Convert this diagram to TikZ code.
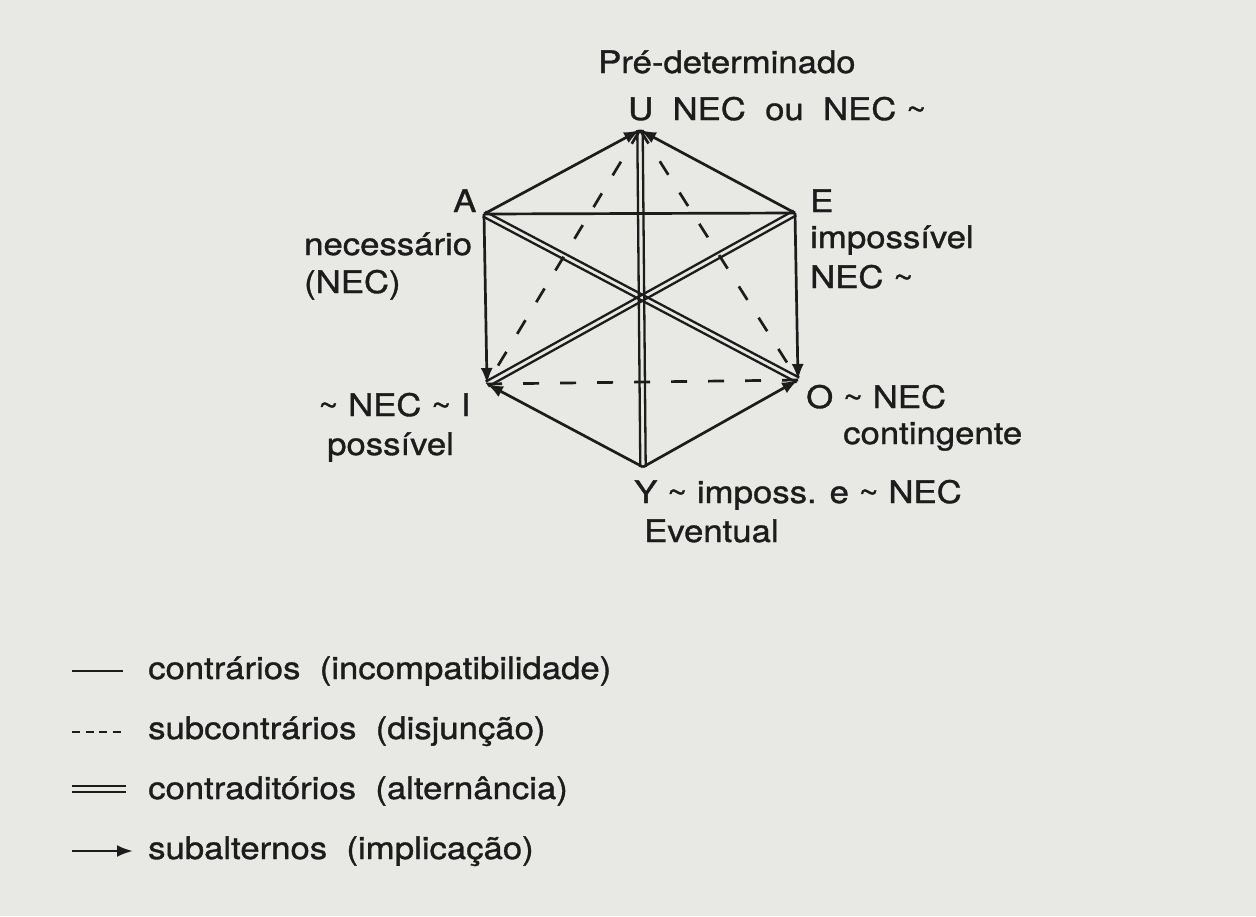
\documentclass[tikz,border=0pt]{standalone}
\usepackage{fontspec}
\setmainfont{TeX Gyre Heros}[FakeStretch=1.12,FakeBold=1.1]
\usetikzlibrary{arrows.meta,calc}
\definecolor{bg}{RGB}{232,232,229}
\definecolor{ink}{RGB}{28,28,28}
\newcommand{\tl}{\textasciitilde}
\newcommand{\dbl}[3][2.7pt]{%
  \draw[thinline] ($(#2)!#1!90:(#3)$) -- ($(#3)!#1!-90:(#2)$);
  \draw[thinline] ($(#2)!#1!-90:(#3)$) -- ($(#3)!#1!90:(#2)$);}
\begin{document}
\begin{tikzpicture}[x=1pt,y=-1pt,
  every node/.style={font=\fontsize{31}{36}\selectfont, text=ink, inner sep=0pt},
  lbl/.style={anchor=base west},
  edgeline/.style={draw=ink, line width=2.7pt},
  thinline/.style={draw=ink, line width=2.3pt},
  subline/.style={edgeline, dash pattern=on 16pt off 21pt},
  impl/.style={edgeline, -{Latex[length=16pt,width=12pt]}}]
\fill[bg] (0,0) rectangle (1256,916);
\useasboundingbox (0,0) rectangle (1256,916);
% vertices
\coordinate (U) at (640,130);
\coordinate (A) at (484,214);
\coordinate (E) at (795,213);
\coordinate (I) at (487,384);
\coordinate (O) at (798,380);
\coordinate (Y) at (643,467);
% subcontraries
\draw[subline] (U) -- (I);
\draw[subline] (U) -- (O);
\draw[subline] (O) -- (I);
% contraries
\draw[edgeline] (A) -- (E);
% contradictories
\dbl{A}{O}
\dbl{E}{I}
\dbl{U}{Y}
% subalterns
\draw[impl] (A) -- (U);
\draw[impl] (E) -- (U);
\draw[impl] (A) -- (I);
\draw[impl] (E) -- (O);
\draw[impl] (Y) -- (I);
\draw[impl] (Y) -- (O);
% labels
\node[lbl] (tpre) at (598,73) {Pré-determinado};
\node[lbl] (tU) at (628,120) {U\ \ NEC\ \ ou\ \ NEC\ \tl};
\node[lbl] (tA) at (453,212) {A};
\node[lbl] (tA1) at (304,255) {necessário};
\node[lbl] (tA2) at (304,293) {(NEC)};
\node[lbl] (tE) at (810,212) {E};
\node[lbl] (tE1) at (810,248) {impossível};
\node[lbl] (tE2) at (810,288) {NEC \tl};
\node[lbl] (tI1) at (318,416) {\tl\ NEC \tl\ I};
\node[lbl] (tI2) at (327,455) {possível};
\node[lbl] (tO1) at (806,408) {O \tl\ NEC};
\node[lbl] (tO2) at (843,444) {contingente};
\node[lbl] (tY1) at (634,503) {Y \tl\ imposs. e \tl\ NEC};
\node[lbl] (tY2) at (644,542) {Eventual};
% legend
\coordinate (l1a) at (72,671); \coordinate (l1b) at (123,671);
\draw[edgeline] (l1a) -- (l1b);
\node[lbl] (t1) at (148,679) {contrários\ \ (incompatibilidade)};
\coordinate (l2a) at (72,732); \coordinate (l2b) at (121,732);
\draw[edgeline, dash pattern=on 8pt off 5.5pt] (l2a) -- (l2b);
\node[lbl] (t2) at (148,739) {subcontrários\ \ (disjunção)};
\coordinate (l3a) at (72,789); \coordinate (l3b) at (126,789);
\dbl{l3a}{l3b}
\node[lbl] (t3) at (148,799) {contraditórios\ \ (alternância)};
\coordinate (l4a) at (72,851); \coordinate (l4b) at (133,851);
\draw[impl] (l4a) -- (l4b);
\node[lbl] (t4) at (148,859) {subalternos\ \ (implicação)};
\end{tikzpicture}
\end{document}
